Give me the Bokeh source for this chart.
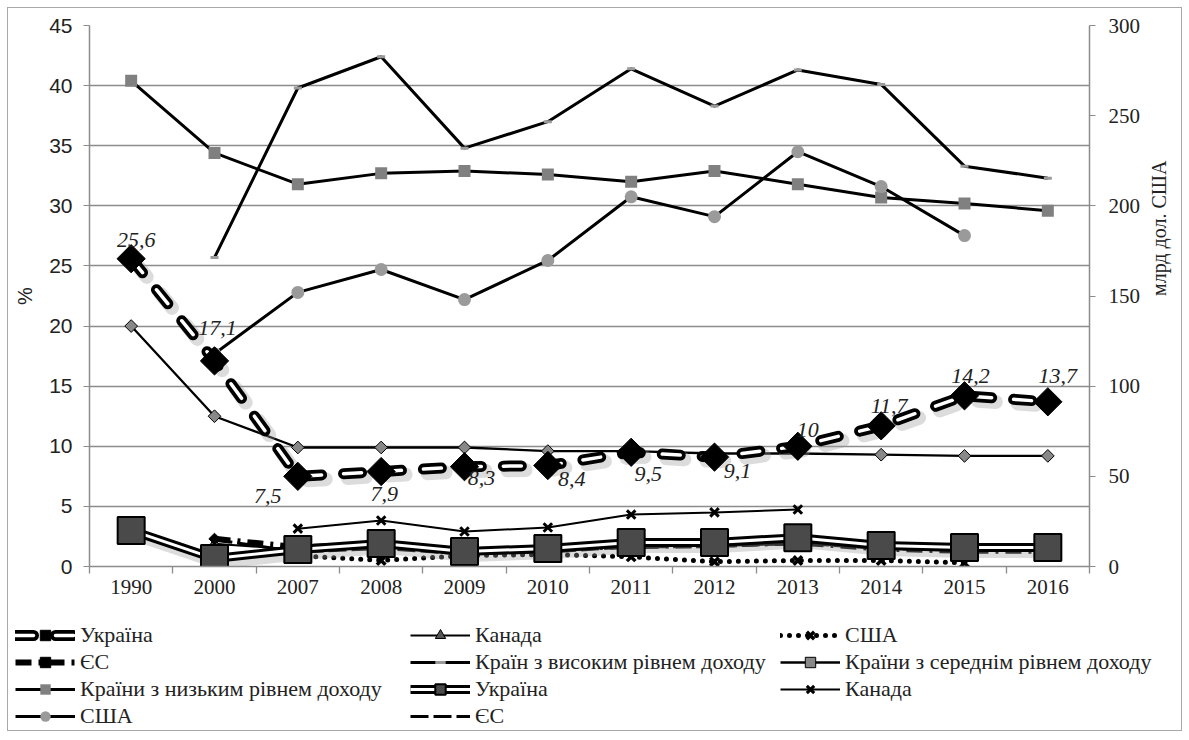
import math
import numpy as np
from bokeh.plotting import figure
from bokeh.models import (Range1d, LinearAxis, FixedTicker, Legend, LegendItem,
                          ColumnDataSource, CustomJSTickFormatter)
from bokeh.core.properties import value
from bokeh.embed import file_html
from bokeh.resources import INLINE

# ---------------- data ----------------
years = ["1990", "2000", "2007", "2008", "2009", "2010", "2011", "2012", "2013", "2014", "2015", "2016"]

# left axis, %
ukraine_pct = [25.6, 17.1, 7.5, 7.9, 8.3, 8.4, 9.5, 9.1, 10.0, 11.7, 14.2, 13.7]
canada_pct = [None, 1.9, 1.4, 1.6, 1.3, 1.4, 1.7, 1.7, 1.9, 1.6, 1.4, 1.4]
usa_pct = [None, None, 0.9, 0.5, 0.9, 1.0, 0.8, 0.4, 0.5, 0.5, 0.3, None]
eu_pct = [None, 2.3, 1.6, 1.8, 1.3, 1.5, 1.7, 1.8, 2.0, 1.5, 1.3, 1.3]
high_income = [None, 25.7, 39.8, 42.4, 34.8, 37.0, 41.4, 38.3, 41.3, 40.1, 33.3, 32.3]
middle_income = [20.0, 12.5, 9.9, 9.9, 9.9, 9.6, 9.6, 9.4, 9.4, 9.3, 9.2, 9.2]
low_income = [40.4, 34.4, 31.8, 32.7, 32.9, 32.6, 32.0, 32.9, 31.8, 30.7, 30.2, 29.6]

# right axis, млрд дол. США
ukraine_bn = [20.0, 4.4, 9.4, 12.8, 8.3, 10.0, 13.3, 13.3, 16.0, 11.6, 10.5, 10.5]
canada_bn = [None, None, 21.0, 25.5, 19.4, 21.6, 28.8, 30.0, 31.6, None, None, None]
usa_bn = [None, 118.0, 152.0, 164.7, 148.0, 169.7, 205.0, 194.0, 230.0, 210.7, 183.5, None]
eu_bn = [None, 15.0, 8.0, 10.0, 7.0, 8.0, 11.0, 11.0, 13.0, 10.0, 9.0, 9.0]

left_ticks = list(range(0, 46, 5))
right_ticks = list(range(0, 301, 50))

# legend columns (label, series key)
legend_cols = [
    [("Україна", "ua_pct"), ("ЄС", "eu_pct"), ("Країни з низьким рівнем доходу", "low"), ("США", "usa_bn")],
    [("Канада", "ca_pct"), ("Країн з високим рівнем доходу", "high"), ("Україна", "ua_bn"), ("ЄС", "eu_bn")],
    [("США", "usa_pct"), ("Країни з середнім рівнем доходу", "mid"), ("Канада", "ca_bn")],
]

# label placement (screen px, styling only)
label_dx = [5, 3, -30, 3, 17, 24, 17, 23, 10, 8, 6, 10]
label_dy = [-19, -33, 20, 22, 11, 13, 22, 14, -16, -20, -20, -26]


def arr(v):
    return np.array([np.nan if a is None else a for a in v], dtype=float)


xs = [i + 0.5 for i in range(len(years))]
SERIF = "Liberation Serif"
SANS = "Liberation Sans"
GRID = "#8c8c8c"
BORDER = "1px solid #a8a8a8"


# ---------------- series styles ----------------
def st_low(f, x, y, **kw):
    return [f.line(x, y, line_color="black", line_width=3, **kw),
            f.scatter(x, y, marker="square", size=12, fill_color="#808080", line_color=None, **kw)]


def st_high(f, x, y, **kw):
    return [f.line(x, y, line_color="black", line_width=3, **kw),
            f.scatter(x, y, marker="dash", size=8, line_color="#9a9a9a", line_width=3, **kw)]


def st_usa_bn(f, x, y, **kw):
    return [f.line(x, y, line_color="black", line_width=3, **kw),
            f.scatter(x, y, marker="circle", size=13, fill_color="#9a9a9a", line_color=None, **kw)]


def st_mid(f, x, y, **kw):
    return [f.line(x, y, line_color="black", line_width=2.3, **kw),
            f.scatter(x, y, marker="square", angle=math.pi / 4, size=9,
                      fill_color="#888888", line_color="black", line_width=1, **kw)]


def st_ua_pct(f, x, y, **kw):
    return [f.line(x, y, line_color="black", line_width=11, line_dash="18 22", line_cap="round", **kw),
            f.line(x, y, line_color="white", line_width=3.5, line_dash="18 22", line_cap="round", **kw),
            f.scatter(x, y, marker="square", angle=math.pi / 4, size=20,
                      fill_color="black", line_color="black", **kw)]


def st_ca_pct(f, x, y, **kw):
    return [f.line(x, y, line_color="black", line_width=2, **kw),
            f.scatter(x, y, marker="triangle", size=11, fill_color="#555555", line_color="black", **kw)]


def st_eu_bn(f, x, y, **kw):
    return [f.line(x, y, line_color="black", line_width=3, line_dash="18 5", **kw)]


def st_eu_pct(f, x, y, **kw):
    return [f.line(x, y, line_color="black", line_width=6, line_dash="16 7 3 7", **kw),
            f.scatter(x, y, marker="square", angle=math.pi / 4, size=8, fill_color="black",
                      line_color="black", **kw)]


def st_usa_pct(f, x, y, **kw):
    return [f.line(x, y, line_color="black", line_width=5, line_dash="0 9", line_cap="round", **kw),
            f.scatter(x, y, marker="x", size=12, line_color="black", line_width=3.5, **kw)]


def st_ca_bn(f, x, y, **kw):
    return [f.line(x, y, line_color="black", line_width=2, **kw),
            f.scatter(x, y, marker="x", size=12, line_color="black", line_width=3, **kw)]


def st_ua_bn(f, x, y, **kw):
    return [f.line(x, y, line_color="black", line_width=9, **kw),
            f.line(x, y, line_color="white", line_width=3, **kw),
            f.scatter(x, y, marker="square", size=27, fill_color="#4a4a4a", line_color="black",
                      line_width=2, **kw)]


styles = {"low": st_low, "high": st_high, "usa_bn": st_usa_bn, "mid": st_mid, "ua_pct": st_ua_pct,
          "ca_pct": st_ca_pct, "eu_bn": st_eu_bn, "eu_pct": st_eu_pct, "usa_pct": st_usa_pct,
          "ca_bn": st_ca_bn, "ua_bn": st_ua_bn}

# ---------------- main chart ----------------
p = figure(width=1175, height=598, output_backend="svg", toolbar_location=None,
           x_range=Range1d(0, len(years)), y_range=Range1d(0, 45),
           min_border_left=81, min_border_right=94, min_border_top=17,
           min_border_bottom=40)
p.extra_y_ranges = {"bn": Range1d(0, 300)}
p.outline_line_color = None
p.xgrid.visible = False
p.ygrid.grid_line_color = GRID
p.ygrid.grid_line_width = 1.3
p.styles = {"position": "relative", "left": "7px", "top": "7px",
            "border-left": BORDER, "border-right": BORDER, "border-top": BORDER}

xa = p.xaxis[0]
xa.ticker = FixedTicker(ticks=xs, minor_ticks=list(range(len(years) + 1)))
xa.formatter = CustomJSTickFormatter(args={"labels": years},
                                     code="return labels[Math.round(tick - 0.5)] || '';")
xa.major_tick_out = 0
xa.major_tick_in = 0
xa.minor_tick_out = 7
xa.minor_tick_in = 0
xa.minor_tick_line_color = GRID
xa.minor_tick_line_width = 1.3
xa.major_label_standoff = 6
xa.major_label_text_font = SERIF
xa.major_label_text_font_size = "21px"

ya = p.yaxis[0]
ya.ticker = FixedTicker(ticks=left_ticks)
ya.axis_label = "%"
ya.major_tick_out = 6
ya.major_tick_in = 0
ya.minor_tick_line_color = None
ya.major_tick_line_color = GRID
ya.major_label_standoff = 11
ya.axis_label_standoff = 10
ya.major_label_text_font = SANS
ya.major_label_text_font_size = "21px"
ya.axis_label_text_font = SANS

ra = LinearAxis(y_range_name="bn", ticker=FixedTicker(ticks=right_ticks))
ra.major_tick_out = 6
ra.major_tick_in = 0
ra.minor_tick_line_color = None
ra.major_tick_line_color = GRID
ra.major_label_standoff = 13
ra.major_label_text_font = SERIF
ra.major_label_text_font_size = "21px"
p.add_layout(ra, "right")

# right-hand axis title, reading bottom-to-top (tick-less helper axis carrying only the label)
la = LinearAxis(y_range_name="bn", ticker=FixedTicker(ticks=[]), bounds=(0, 236))
la.axis_label = "млрд дол. США"
la.axis_line_color = None
la.major_tick_line_color = None
la.minor_tick_line_color = None
la.axis_label_standoff = 15
la.axis_label_text_font = SERIF
try:
    la.axis_label_orientation = math.pi / 2
except (AttributeError, ValueError):
    pass
p.add_layout(la, "right")

for ax in (xa, ya, ra, la):
    if ax is not la:
        ax.axis_line_color = GRID
        ax.axis_line_width = 1.5
    ax.major_label_text_color = "#222222"
    ax.axis_label_text_font_style = "normal"
    ax.axis_label_text_font_size = "20px"
    ax.axis_label_text_color = "#222222"

# upper series
st_low(p, xs, arr(low_income))
st_high(p, xs, arr(high_income))
st_usa_bn(p, xs, arr(usa_bn), y_range_name="bn")
st_mid(p, xs, arr(middle_income))
u_pct = arr(ukraine_pct)
p.line([x + 0.05 for x in xs], u_pct - 0.35, line_color="#9a9a9a", line_width=14, line_alpha=0.35,
       line_dash="18 22", line_cap="round")
st_ua_pct(p, xs, u_pct)
# bottom series
st_ca_pct(p, xs, arr(canada_pct))
st_eu_bn(p, xs, arr(eu_bn), y_range_name="bn")
st_eu_pct(p, xs, arr(eu_pct))
st_usa_pct(p, xs, arr(usa_pct))
st_ca_bn(p, xs, arr(canada_bn), y_range_name="bn")
u_bn = arr(ukraine_bn)
p.line([x + 0.05 for x in xs], u_bn - 2.5, line_color="#9a9a9a", line_width=12, line_alpha=0.35,
       y_range_name="bn")
st_ua_bn(p, xs, u_bn, y_range_name="bn")

lbl = ColumnDataSource(dict(x=xs, y=ukraine_pct,
                            t=[f"{v:g}".replace(".", ",") for v in ukraine_pct],
                            dx=label_dx, dy=label_dy))
p.text(x="x", y="y", text="t", x_offset="dx", y_offset="dy", source=lbl,
       text_font=value(SERIF), text_font_style="italic", text_font_size="22px",
       text_align="center", text_baseline="middle", text_color="#222222")

# ---------------- legend strip (separate root, not frame-aligned) ----------------
LH = 126
q = figure(width=1175, height=LH, output_backend="svg", toolbar_location=None,
           x_range=Range1d(0, 1), y_range=Range1d(0, 1), x_axis_type=None, y_axis_type=None,
           min_border_left=0, min_border_right=0, min_border_top=0, min_border_bottom=0)
q.outline_line_color = None
q.grid.visible = False
q.styles = {"position": "relative", "left": "7px", "top": "7px",
            "border-left": BORDER, "border-right": BORDER, "border-bottom": BORDER}

col_x = [7, 402, 772]
ROW_H, GAP, TOP = 26, 1, 17
for cx, entries in zip(col_x, legend_cols):
    # legend swatches: one NaN point so nothing is drawn in the strip itself
    its = [LegendItem(label=lab, renderers=styles[k](q, [np.nan], [np.nan])) for lab, k in entries]
    n = len(entries)
    h = n * ROW_H + (n - 1) * GAP
    lg = Legend(items=its, location=(cx, LH - TOP - h), orientation="vertical",
                glyph_width=60, glyph_height=ROW_H, label_height=ROW_H, label_standoff=5,
                spacing=GAP, padding=0, margin=0, border_line_color=None, background_fill_alpha=0,
                label_text_font=SERIF, label_text_font_size="22px", label_text_color="#222222")
    q.add_layout(lg, "center")

open("out.html", "w").write(file_html([p, q], INLINE))
